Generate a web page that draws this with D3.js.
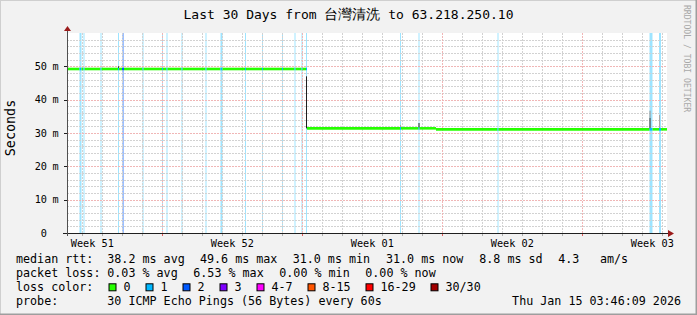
<!DOCTYPE html>
<html>
<head>
<meta charset="utf-8">
<script src="https://cdn.jsdelivr.net/npm/d3@7"></script>
<style>
	body { margin: 0; background: #ffffff; }
	svg text { font-family: "DejaVu Sans Mono", monospace; fill: #000000; }
</style>
</head>
<body>
<div id="container"></div>
<script>
// values
var titleHead = "Last 30 Days from ";
var titleHost = "台灣清洗";
var titleTail = " to 63.218.250.10";
var yTickValues = [0, 10, 20, 30, 40, 50];
var yTickUnits = ["", "m", "m", "m", "m", "m"];
var weekLabels = ["Week 51", "Week 52", "Week 01", "Week 02", "Week 03"];

// median rtt (ms) as steps, days counted from the left edge of the graph
var medianDays = [0, 12.0, 18.45, 30];
var medianMs = [49.2, 31.4, 31.1, 31.1];

// samples with lost pings: start day, pings lost, number of 72 min samples
var lossDays = [0.625, 0.825, 1.675, 2.55, 2.75, 3.775, 4.75, 4.975, 5.725, 6.925, 7.675,
	8.9, 9.75, 10.75, 11.375, 11.725, 11.95, 16.65, 17.575, 21.525, 29.125, 29.6];
var lossCounts = [1, 1, 1, 1, 2, 1, 1, 1, 1, 1, 1, 1, 1, 1, 1, 1, 1, 1, 1, 1, 1, 1];
var lossSamples = [2, 1, 1, 1, 2, 1, 1, 1, 1, 1, 2, 1, 1, 1, 1, 1, 1, 1, 1, 1, 3, 2];

// smoke (spread of the pings): day, low ms, high ms, density 0..1
var smokeDays = [2.55, 11.95, 16.65, 17.575, 29.125, 29.125, 29.6];
var smokeLow = [49.2, 31.4, 31.4, 31.4, 31.1, 34.5, 31.1];
var smokeHigh = [50.0, 47.0, 32.4, 33.0, 34.5, 36.7, 35.4];
var smokeDensity = [0.9, 0.95, 0.3, 0.9, 0.9, 0.4, 0.3];

var lossLabels = ["0", "1", "2", "3", "4-7", "8-15", "16-29", "30/30"];
var lossColors = ["#26ff00", "#00b8ff", "#0059ff", "#7e00ff", "#ff00ff", "#ff5500", "#ff0000", "#a10000"];

var rttStats = [38.2, 49.6, 31.0, 31.0, 8.8];
var rttStatNames = ["avg", "max", "min", "now", "sd"];
var amsValue = 4.3;
var lossStats = [0.03, 6.53, 0.00, 0.00];
var lossStatNames = ["avg", "max", "min", "now"];
var probeText = "30 ICMP Echo Pings (56 Bytes) every 60s";
var stampText = "Thu Jan 15 03:46:09 2026";

function lossBucket(n) {
	if (n <= 3) return n;
	if (n <= 7) return 4;
	if (n <= 15) return 5;
	if (n <= 29) return 6;
	return 7;
}

function makeChart() {
	var w = 697, h = 315;
	var left = 67, top = 33, plotW = 600, plotH = 200;
	var sampleDays = 72 / 1440;
	var DAY = 864e5;

	var start = new Date(Date.UTC(2025, 11, 16, 5, 38, 24));
	var end = new Date(+start + 30 * DAY);
	function dayAt(d) { return new Date(+start + d * DAY); }

	var svg = d3.select("#container")
		.append("svg")
		.attr("width", w)
		.attr("height", h);

	var x = d3.scaleUtc().domain([start, end]).range([left, left + plotW]);
	var y = d3.scaleLinear().domain([0, 60]).range([top + plotH, top]);

	// background, frame, canvas
	svg.append("rect").attr("width", w).attr("height", h).attr("fill", "#f2f2f2");
	svg.append("path").attr("d", "M0,315V0H697").attr("fill", "none").attr("stroke", "#cfcfcf").attr("stroke-width", 2);
	svg.append("path").attr("d", "M697,0V315H0").attr("fill", "none").attr("stroke", "#9e9e9e").attr("stroke-width", 3);
	svg.append("rect").attr("x", left).attr("y", top).attr("width", plotW).attr("height", plotH).attr("fill", "#ffffff");

	//loss background bars
	svg.append("g").selectAll("rect")
		.data(lossDays)
		.enter()
		.append("rect")
		.attr("x", function(d) { return x(dayAt(d)); })
		.attr("y", top)
		.attr("width", function(d, i) { return x(dayAt(d + lossSamples[i] * sampleDays)) - x(dayAt(d)); })
		.attr("height", plotH)
		.attr("fill", function(d, i) { return lossColors[lossBucket(lossCounts[i])]; })
		.attr("opacity", 0.38);

	//grid
	var weekStarts = d3.utcSunday.range(new Date(+start - 7 * DAY), end);
	var days = d3.utcDay.range(start, end).filter(function(d) { return d.getUTCDay() != 0; });
	var minorY = d3.range(2, 60, 2).filter(function(v) { return v % 10 != 0; });
	var majorY = d3.range(10, 60, 10);
	var grid = svg.append("g").attr("stroke-dasharray", "2,1").attr("fill", "none");
	grid.selectAll("line.minx")
		.data(days).enter().append("line")
		.attr("x1", function(d) { return Math.round(x(d)) + 0.5; })
		.attr("x2", function(d) { return Math.round(x(d)) + 0.5; })
		.attr("y1", top).attr("y2", top + plotH)
		.attr("stroke", "#d2d2d2");
	grid.selectAll("line.miny")
		.data(minorY).enter().append("line")
		.attr("x1", left).attr("x2", left + plotW)
		.attr("y1", function(d) { return Math.round(y(d)) + 0.5; })
		.attr("y2", function(d) { return Math.round(y(d)) + 0.5; })
		.attr("stroke", "#d2d2d2");
	grid.selectAll("line.majx")
		.data(weekStarts.filter(function(d) { return d > start; })).enter().append("line")
		.attr("x1", function(d) { return Math.round(x(d)) + 0.5; })
		.attr("x2", function(d) { return Math.round(x(d)) + 0.5; })
		.attr("y1", top).attr("y2", top + plotH)
		.attr("stroke", "#f0b6b6");
	grid.selectAll("line.majy")
		.data(majorY).enter().append("line")
		.attr("x1", left).attr("x2", left + plotW)
		.attr("y1", function(d) { return Math.round(y(d)) + 0.5; })
		.attr("y2", function(d) { return Math.round(y(d)) + 0.5; })
		.attr("stroke", "#f0b6b6");

	//smoke
	svg.append("g").selectAll("rect")
		.data(smokeDays)
		.enter()
		.append("rect")
		.attr("x", function(d) { return x(dayAt(d)); })
		.attr("y", function(d, i) { return y(smokeHigh[i]); })
		.attr("width", function(d) { return x(dayAt(d + sampleDays)) - x(dayAt(d)); })
		.attr("height", function(d, i) { return y(smokeLow[i]) - y(smokeHigh[i]); })
		.attr("fill", function(d, i) { var g = Math.round(230 - 210 * smokeDensity[i]); return d3.rgb(g, g, g); });

	function medianAt(d) {
		var v = medianMs[0];
		for (var i = 0; i < medianDays.length; i++) if (medianDays[i] <= d + 1e-9) v = medianMs[i];
		return v;
	}

	//median line: cut into pieces at every step and every lossy sample
	var cuts = medianDays.slice();
	lossDays.forEach(function(d, i) { cuts.push(d, d + lossSamples[i] * sampleDays); });
	cuts = d3.sort(d3.union(cuts.map(function(c) { return +c.toFixed(4); })));
	var pieces = [];
	for (var k = 0; k < cuts.length - 1; k++) {
		var a = cuts[k], b = cuts[k + 1];
		var lost = 0;
		lossDays.forEach(function(d, i) {
			if (a >= d - 1e-6 && a < d + lossSamples[i] * sampleDays - 1e-6) lost = lossCounts[i];
		});
		pieces.push({a: a, b: b, ms: medianAt(a), loss: lost});
	}
	svg.append("g").selectAll("line")
		.data(pieces)
		.enter()
		.append("line")
		.attr("x1", function(d) { return x(dayAt(d.a)); })
		.attr("x2", function(d) { return x(dayAt(d.b)); })
		.attr("y1", function(d) { return y(d.ms); })
		.attr("y2", function(d) { return y(d.ms); })
		.attr("stroke", function(d) { return lossColors[lossBucket(d.loss)]; })
		.attr("stroke-width", 2.6);

	//axes
	var axis = svg.append("g").attr("stroke", "#202020").attr("fill", "none");
	axis.append("line").attr("x1", left - 4).attr("x2", left + plotW + 3)
		.attr("y1", top + plotH + 0.5).attr("y2", top + plotH + 0.5);
	axis.append("line").attr("x1", left + 0.5).attr("x2", left + 0.5)
		.attr("y1", top + plotH + 3).attr("y2", top - 3).attr("stroke", "#505050");
	axis.selectAll("line.ty")
		.data(yTickValues).enter().append("line")
		.attr("x1", left - 3).attr("x2", left)
		.attr("y1", function(d) { return Math.round(y(d)) + 0.5; })
		.attr("y2", function(d) { return Math.round(y(d)) + 0.5; });
	axis.selectAll("line.tx")
		.data(days).enter().append("line")
		.attr("x1", function(d) { return Math.round(x(d)) + 0.5; })
		.attr("x2", function(d) { return Math.round(x(d)) + 0.5; })
		.attr("y1", top + plotH + 1).attr("y2", top + plotH + 3)
		.attr("stroke", "#b0b0b0");
	axis.selectAll("line.tw")
		.data(weekStarts.filter(function(d) { return d > start; })).enter().append("line")
		.attr("x1", function(d) { return Math.round(x(d)) + 0.5; })
		.attr("x2", function(d) { return Math.round(x(d)) + 0.5; })
		.attr("y1", top + plotH + 1).attr("y2", top + plotH + 3)
		.attr("stroke", "#e06060");

	//arrows
	svg.append("path").attr("d", "M" + (left - 3) + "," + (top - 2) + "L" + (left + 0.5) + "," + (top - 7) + "L" + (left + 4) + "," + (top - 2) + "Z")
		.attr("fill", "#9b1b1b");
	svg.append("path").attr("d", "M" + (left + plotW + 1) + "," + (top + plotH - 3) + "L" + (left + plotW + 7) + "," + (top + plotH + 0.5) + "L" + (left + plotW + 1) + "," + (top + plotH + 4) + "Z")
		.attr("fill", "#9b1b1b");

	//y labels
	var yl = svg.append("g").attr("font-size", "10.2px");
	yl.selectAll("text.num")
		.data(yTickValues).enter().append("text")
		.text(function(d) { return d; })
		.attr("text-anchor", "end")
		.attr("x", 47)
		.attr("y", function(d) { return y(d) + 3.7; });
	yl.selectAll("text.unit")
		.data(yTickValues).enter().append("text")
		.text(function(d, i) { return yTickUnits[i]; })
		.attr("x", 52.5)
		.attr("y", function(d) { return y(d) + 3.7; });

	//x labels in the middle of each week
	svg.append("g").attr("font-size", "10.2px")
		.selectAll("text")
		.data(weekStarts).enter().append("text")
		.text(function(d, i) { return weekLabels[i]; })
		.attr("text-anchor", "middle")
		.attr("x", function(d) { return x(new Date(+d + 3.5 * DAY)); })
		.attr("y", 246.7);

	//title and side texts
	var title = svg.append("text")
		.attr("x", w / 2).attr("y", 19).attr("text-anchor", "middle").attr("font-size", "13px")
		.attr("xml:space", "preserve");
	title.append("tspan").text(titleHead);
	title.append("tspan").text(titleHost).attr("font-size", "14.3px");
	title.append("tspan").text(titleTail);
	svg.append("text").text("Seconds")
		.attr("transform", "translate(15,128) rotate(-90)")
		.attr("text-anchor", "middle").attr("font-size", "13.4px");
	svg.append("text").text("RRDTOOL / TOBI OETIKER")
		.attr("transform", "translate(684,5) rotate(90)")
		.attr("font-size", "8.1px").style("fill", "#a8a8a8");

	//legend
	var lg = svg.append("g").attr("font-size", "11.7px").attr("xml:space", "preserve");
	var rows = [263.3, 277.3, 291.3, 305.3];
	lg.append("text").text("median rtt:").attr("x", 16).attr("y", rows[0]);
	var rttX = [107.3, 200, 292.7, 386, 479.3];
	rttStats.forEach(function(v, i) {
		lg.append("text").text(v.toFixed(1) + " ms " + rttStatNames[i]).attr("x", rttX[i]).attr("y", rows[0]);
	});
	lg.append("text").text(amsValue.toFixed(1)).attr("x", 558.3).attr("y", rows[0]);
	lg.append("text").text("am/s").attr("x", 600).attr("y", rows[0]);

	lg.append("text").text("packet loss:").attr("x", 16).attr("y", rows[1]);
	lossStats.forEach(function(v, i) {
		lg.append("text").text(v.toFixed(2) + " % " + lossStatNames[i]).attr("x", 107.3 + i * 86).attr("y", rows[1]);
	});

	lg.append("text").text("loss color:").attr("x", 16).attr("y", rows[2]);
	var bx = 108.5;
	lossLabels.forEach(function(lab, i) {
		lg.append("rect").attr("x", bx + 0.5).attr("y", rows[2] - 7.5).attr("width", 7).attr("height", 7)
			.attr("fill", lossColors[i]).attr("stroke", "#000000");
		lg.append("text").text(lab).attr("x", bx + 15).attr("y", rows[2]);
		bx += 30 + 7 * lab.length;
	});

	lg.append("text").text("probe:").attr("x", 16).attr("y", rows[3]);
	lg.append("text").text(probeText).attr("x", 107.3).attr("y", rows[3]);
	lg.append("text").text(stampText).attr("x", 681).attr("y", rows[3]).attr("text-anchor", "end");
}

makeChart();
</script>
</body>
</html>
